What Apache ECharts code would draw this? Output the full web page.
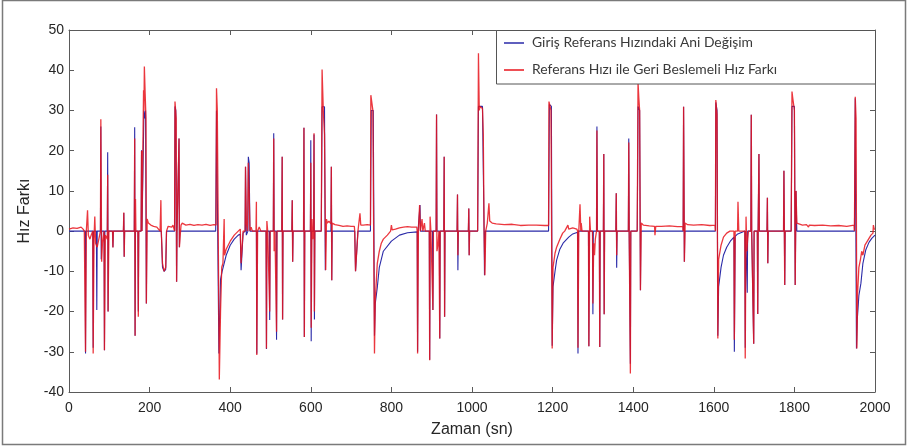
<!DOCTYPE html>
<html>
<head>
<meta charset="utf-8">
<script src="https://cdn.jsdelivr.net/npm/echarts@6/dist/echarts.min.js"></script>
<style>html,body{margin:0;padding:0;background:#fff}#c{width:910px;height:446px}</style>
</head>
<body>
<div id="c"></div>
<script>
const xTicks = [0,200,400,600,800,1000,1200,1400,1600,1800,2000];
const yTicks = [-40,-30,-20,-10,0,10,20,30,40,50];
const seriesNames = ['Giriş Referans Hızındaki Ani Değişim','Referans Hızı ile Geri Beslemeli Hız Farkı'];

// Giriş referans hızındaki ani değişim (blue) : [zaman, değer]
const blueSignal = [
[0,0],[40,0],[41,-30.4],[42,0],[59,0],[60,-29],[61,0],[68,0],[69,-19.6],[70,0],
[78,0],[79,26],[80,-7],[81,0],[87,0],[88,-29.6],[89,0],[95,0],[96,19.6],[97,-20],[98,0],
[108,0],[109,-4],[110,0],[135,0],[136,4.5],[137,-6.4],[138,0],
[162,0],[163,25.8],[164,-26],[165,0],[171,0],[172,-20],[173,0],
[179,0],[180,20.1],[181,0],[185,0],[186,30],[188,28],[190,30],[192,-18],[193,0],
[229,0],[232,-9],[236,-10],[240,-9.5],[242,0],
[262,0],[263,31],[265,30],[267,-12.6],[268,0],[272,0],[273,23],[274,-4],[275,0],
[364,0],[366,30],[370,30],[372,-30.4],[374,-30],[376,-12],[380,-10],[385,-8],[390,-6],[400,-3.5],[410,-2],[420,-1],[425,-0.8],
[427,-9.7],[430,-9.7],[432,-0.5],[437,0],[438,16],[440,-1],[444,0],[445,18.5],[447,17],[449,0],
[465,0],[466,-30.5],[467,0],[489,0],[490,-29.3],[491,0],[497,0],[498,-22.1],[499,0],
[507,0],[508,24.3],[509,0],[514,0],[515,-27],[516,0],[528,0],[529,18.5],[530,-22],[531,0],
[553,0],[554,7.7],[555,-7.6],[556,0],[582,0],[583,25.7],[584,-26.3],[585,0],
[599,0],[600,22.6],[601,-27.4],[602,0],[607,0],[608,24],[609,-22],[610,0],
[626,0],[628,30.9],[634,30.9],[636,-9.7],[637,0],[650,0],[651,16],[652,-12.2],[653,0],
[709,0],[711,-10],[715,-10],[717,0],
[748,0],[750,30],[755,30],[758,-26],[760,-18],[765,-14],[770,-9],[780,-5],[800,-2.5],[820,-1],[840,-0.4],[864,-0.2],
[865,-30],[866,0],[870,0],[871,6.5],[872,0],[894,0],[895,-32],[896,0],
[902,0],[903,-19.6],[904,0],[911,0],[912,29],[913,0],[919,0],[920,-26.7],[921,0],
[930,0],[931,18.5],[932,-21.3],[933,0],[963,0],[964,9.1],[965,-9.7],[966,0],
[991,0],[992,5.6],[993,-6],[994,0],
[1014,0],[1016,31],[1026,31],[1030,0],[1031,-11],[1033,0],
[1190,0],[1192,31.5],[1197,31],[1199,-28.5],[1201,-13.8],[1206,-10],[1210,-7.2],[1218,-4.5],[1226,-3],[1240,-1.5],[1250,-0.7],[1262,-0.3],
[1263,-30.4],[1264,0],[1289,0],[1290,-28.6],[1291,0],[1299,0],[1300,-20.7],[1301,0],
[1309,0],[1310,26],[1311,0],[1316,0],[1317,-28.8],[1318,0],[1326,0],[1327,19.2],[1328,-20.7],[1329,0],
[1357,0],[1358,9.4],[1359,-9.1],[1360,0],[1388,0],[1389,23],[1390,0],[1392,0],[1393,-33],[1394,0],
[1410,0],[1412,31],[1416,30],[1418,-14.7],[1419,0],[1524,0],[1525,30.9],[1527,-7.6],[1528,0],
[1604,0],[1605,32],[1608,30],[1610,-26],[1612,-13.8],[1618,-9],[1624,-6],[1632,-4],[1641,-2.5],[1650,-1.5],
[1651,-30],[1653,-1.3],[1658,-0.8],[1670,-0.3],[1677,0],[1678,-29],[1679,0],[1682,0],[1683,-15.3],[1684,0],
[1692,0],[1693,28.9],[1694,0],[1698,0],[1699,-28],[1700,0],[1708,0],[1709,-20.6],[1710,0],[1711,0],[1712,19.2],[1713,0],
[1732,0],[1733,8.3],[1734,-8],[1735,0],[1773,0],[1774,15],[1776,-13.4],[1777,0],
[1792,0],[1794,31],[1800,31],[1802,-13.4],[1804,10],[1806,0],
[1949,0],[1951,33],[1954,-29.2],[1956,-22],[1960,-16],[1965,-13],[1970,-8],[1977,-4.7],[1985,-2.8],[1992,-1.8],[2000,-1]
];

// Referans hızı ile geri beslemeli hız farkı (red) : [zaman, değer]
const redSignal = [
[0,0.5],[10,0.8],[20,0.7],[30,1],[35,0.5],[38,0],[40,0],[41,-30],[43,0],[46,5.2],[48,-1],[52,-2],[55,-1],[59,0],
[60,-30.4],[62,-2],[64,3.6],[66,-3],[70,-4],[74,-2],[78,0],[79,27.8],[81,-7.6],[83,-3],[87,0],[88,-29.6],[90,-1],
[95,-2],[96,14],[97,-20],[99,0],[108,0],[109,-4.1],[110,0],[135,0],[136,4.6],[137,-6.4],[138,0],
[162,0],[163,23],[164,-26],[165,8],[166,0],[171,0],[172,-21.3],[173,0],
[179,0],[180,20],[181,0],[184,0],[185,35],[186,30],[187,40.9],[189,34],[191,28],[192,-18],[194,3],[197,2],[203,1.5],[210,1.2],[218,1],[222,0.5],[226,0],
[228,7.7],[229,0],[232,-8],[236,-10],[240,-9],[242,0],[246,1.2],[255,1],[258,1.5],[262,0],
[263,32.2],[266,28],[267,-12.6],[268,0],[273,23],[274,-4],[276,-1],[278,1.5],[281,2],[290,1.5],[300,1.7],[310,1.4],[320,1.6],[330,1.5],[340,1.7],[350,1.4],[360,1.6],[365,1.5],
[366,35.5],[368,30],[370,30],[373,-36.9],[376,-20],[379,-9],[382,-8],[385,3],[386,-6],[390,-4.5],[400,-2.5],[410,-1],[420,0],[425,0.5],
[427,-8],[430,-8],[432,0],[437,0],[438,16],[440,2],[443,0],[445,17],[447,10],[449,0],[452,1],[455,0],
[464,0],[465,7.3],[466,-30.8],[468,0],[472,1],[476,0],[489,0],[490,-29.2],[491,2.5],[493,0],
[497,0],[498,-20],[499,0],[507,0],[508,23],[509,-5],[511,0],[514,0],[515,-25],[516,0],
[528,0],[529,18.5],[530,-22],[531,0],[553,0],[554,7.7],[555,-7.6],[556,0],[582,0],[583,25.7],[584,-26.3],[585,0],
[599,0],[600,17],[601,-24],[603,3],[605,-2],[607,0],[608,24.3],[609,-20],[610,0],
[626,0],[628,40.2],[631,30],[634,24],[637,-9.7],[639,3],[641,2],[645,2.5],[650,1.8],[651,16],[652,-12.2],[653,2],
[660,1.6],[670,1.4],[680,1.2],[690,1.3],[700,1.2],[708,1.2],[709,0],[711,-10],[715,-10],[717,0],[722,4.4],[724,1.5],[730,1.5],[740,1.6],[748,1.5],
[749,33.8],[754,30],[758,-30.4],[760,-17],[765,-8],[770,-5],[775,-3],[780,-2],[790,-1],[798,0],[800,1.5],[802,0.3],[810,0.5],[820,0.8],[830,1],[840,1.1],[850,1],[863,1],[864,0],
[865,-30.4],[867,0],[870,6.5],[872,0],[876,3],[878,0],[882,2],[884,0],[894,0],[895,-32.1],[896,3.6],[898,0],
[902,0],[903,-19.6],[904,0],[911,0],[912,29],[913,-5],[916,-3],[918,0],[919,0],[920,-26.7],[921,0],
[930,0],[931,18.5],[932,-21.3],[933,0],[963,0],[964,9.1],[965,-6],[966,0],[991,0],[992,5.6],[993,-6],[994,0],
[1014,0],[1016,44.2],[1018,30],[1020,31],[1026,30.5],[1028,24],[1030,0],[1032,-11],[1034,0],[1038,2],[1042,6.9],[1044,2.5],
[1050,2],[1060,1.8],[1080,1.6],[1100,1.7],[1120,1.4],[1140,1.5],[1160,1.5],[1180,1.4],[1190,1.4],
[1191,32.2],[1196,30],[1199,-29.2],[1201,-9],[1206,-5.5],[1210,-4],[1218,-2],[1225,-0.5],[1230,0],[1238,1.5],[1240,0.5],[1250,0.8],[1260,0.5],[1262,0],
[1263,-29],[1265,0],[1268,6.7],[1270,0],[1271,2],[1273,0],[1289,0],[1290,-28.6],[1292,3.6],[1294,0],
[1299,0],[1300,-18],[1302,-3],[1304,-6],[1306,-2],[1309,0],[1310,25],[1311,0],[1316,0],[1317,-28.8],[1318,0],
[1326,0],[1327,19.2],[1328,-20.7],[1329,0],[1357,0],[1358,9.4],[1359,-6],[1360,0],
[1388,0],[1389,22],[1390,0],[1392,0],[1393,-35.4],[1394,0],
[1410,0],[1412,37],[1414,33],[1416,30],[1418,-14.7],[1420,2],[1425,1.5],[1440,1.3],[1453,1.2],[1454,-1],[1456,1.2],[1470,1.2],[1490,1.3],[1510,1.1],[1523,1.2],[1524,0],
[1525,30.9],[1527,-7.6],[1529,2],[1535,1.6],[1550,1.5],[1570,1.6],[1590,1.4],[1603,1.5],[1604,0],
[1605,32.6],[1608,29],[1610,-26.7],[1612,-7],[1618,-3.5],[1624,-1.5],[1632,-0.5],[1640,0],[1650,0],[1651,-27],[1653,0],
[1659,0],[1660,7.3],[1662,0],[1677,0],[1678,-31.7],[1680,3.6],[1682,-5],[1684,-2],[1686,0],
[1692,0],[1693,28.9],[1694,0],[1698,0],[1699,-28],[1700,0],[1708,0],[1709,-20.6],[1710,0],[1711,0],[1712,19.2],[1713,0],
[1732,0],[1733,8.3],[1734,-8],[1735,0],[1773,0],[1774,15],[1776,-13.4],[1777,0],
[1792,0],[1794,34.7],[1796,33],[1800,30],[1802,-13.4],[1804,10],[1806,2],[1810,1.8],[1820,1.5],[1830,1.6],[1835,1],[1837,1.5],
[1850,1.4],[1870,1.5],[1890,1.3],[1910,1.4],[1930,1.2],[1948,1.5],[1949,0],
[1951,33.4],[1953,28],[1955,-29.2],[1957,-15],[1960,-9],[1964,-7],[1967,-5],[1970,-6],[1975,-3.5],[1981,-2.5],[1990,-1],[1995,-0.5],[1996,1.5],[1998,0.5],[2000,0.5]
];

const chart = echarts.init(document.getElementById('c'), null, {renderer:'canvas'});
const axisCol = '#5a5a5a';
const labelCol = '#262626';
const font = 'Liberation Sans, Arial, sans-serif';
const blueCol = '#2a2aa8', redCol = '#e8141c';
const xInt = xTicks[1]-xTicks[0], yInt = yTicks[1]-yTicks[0];
const xAxisBase = {type:'value', min:xTicks[0], max:xTicks[xTicks.length-1], interval:xInt,
  axisLine:{show:true, onZero:false, lineStyle:{color:axisCol, width:1}},
  axisTick:{show:true, inside:true, length:5, lineStyle:{color:axisCol}},
  splitLine:{show:false}};
const yAxisBase = {type:'value', min:yTicks[0], max:yTicks[yTicks.length-1], interval:yInt,
  axisLine:{show:true, onZero:false, lineStyle:{color:axisCol, width:1}},
  axisTick:{show:true, inside:true, length:5, lineStyle:{color:axisCol}},
  splitLine:{show:false}};
chart.setOption({
  animation:false,
  backgroundColor:'#ffffff',
  grid:{left:69, right:35, top:30, bottom:54, containLabel:false},
  xAxis:[
    Object.assign({}, xAxisBase, {position:'bottom', name:'Zaman (sn)', nameLocation:'middle', nameGap:30,
      nameTextStyle:{fontFamily:font, fontSize:16, color:labelCol},
      axisLabel:{fontFamily:font, fontSize:14, color:labelCol, margin:9, formatter:v=>String(v)}}),
    Object.assign({}, xAxisBase, {position:'top', axisLabel:{show:false}})
  ],
  yAxis:[
    Object.assign({}, yAxisBase, {position:'left', name:'Hız Farkı', nameLocation:'middle', nameGap:27,
      nameTextStyle:{fontFamily:font, fontSize:16, color:labelCol},
      axisLabel:{fontFamily:font, fontSize:14, color:labelCol, margin:5, formatter:v=>String(v)}}),
    Object.assign({}, yAxisBase, {position:'right', axisLabel:{show:false}})
  ],
  legend:{
    show:true, z:30, left:504, top:35, orient:'vertical', itemWidth:20, itemHeight:1.5, itemGap:11,
    padding:0, icon:'rect',
    textStyle:{fontFamily:'Lato, Open Sans, sans-serif', fontSize:13.9, lineHeight:16, color:'#3a3a3a', padding:[0,0,0,3]},
    data:seriesNames
  },
  graphic:[
    {type:'rect', z:25, shape:{x:496.5, y:30.5, width:379, height:53.5}, style:{fill:'#fff', stroke:'#555', lineWidth:1}},
    {type:'rect', z:1, silent:true, shape:{x:2.5, y:0.5, width:903, height:444}, style:{fill:'none', stroke:'#7a7a7a', lineWidth:1.5}}
  ],
  series:[
    {name:seriesNames[0], type:'line', data:blueSignal, showSymbol:false, symbol:'none', z:3,
      lineStyle:{color:blueCol, width:1.1}, itemStyle:{color:blueCol}},
    {name:seriesNames[1], type:'line', data:redSignal, showSymbol:false, symbol:'none', z:4,
      lineStyle:{color:redCol, width:1.3, opacity:0.85}, itemStyle:{color:redCol}}
  ]
});
</script>
</body>
</html>
